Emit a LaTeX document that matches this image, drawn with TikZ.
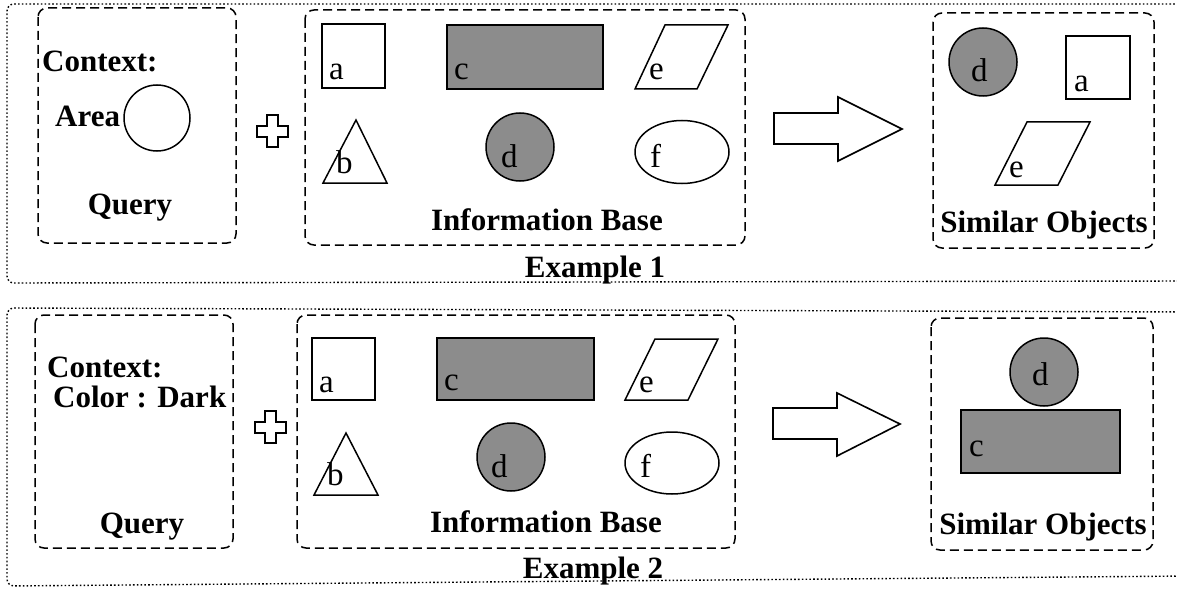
\documentclass[tikz,border=0pt]{standalone}
\usepackage{fontspec}
\setmainfont{Liberation Serif}
\usetikzlibrary{shapes.geometric}
\begin{document}
\begin{tikzpicture}[x=1pt,y=-1pt,
  lbl/.style={font=\fontsize{33}{33}\selectfont, inner sep=0pt, anchor=base west},
  ttl/.style={font=\bfseries\fontsize{31}{31}\selectfont, inner sep=0pt, anchor=base},
  ttlw/.style={ttl, anchor=base west},
  shp/.style={draw, line width=1.5pt},
  dk/.style={shp, fill=black!45},
  grp/.style={draw, dash pattern=on 9pt off 5pt, line width=1.5pt, rounded corners=9pt},
  outerbox/.style={draw, dash pattern=on 1.6pt off 2.2pt, line width=1.4pt, rounded corners=7pt},
  blockarrow/.style={draw, line width=1.6pt, fill=white}]
\useasboundingbox (0,0) rectangle (1177,591);
\fill[white] (0,0) rectangle (1177,591);

% ---------------- Example 1 ----------------
\draw[outerbox] (1190,4) -- (7,4) -- (7,283) -- (1190,281);
\draw[grp] (38,8) rectangle (236,243);
\node[ttlw] (ctx1) at (42,72) {Context:};
\node[ttlw] (area1) at (55,127) {Area};
\node[shp, circle, minimum size=66pt, inner sep=0pt] (qc1) at (157,118) {};
\node[ttl] (query1) at (130,214) {Query};
\draw[shp, line width=1.6pt] (267,115) -- (278,115) -- (278,126) -- (288,126) -- (288,137) -- (278,137) -- (278,147) -- (267,147) -- (267,137) -- (257,137) -- (257,126) -- (267,126) -- cycle;

\draw[grp] (305,10) rectangle (745,245);
\node[shp, rectangle, minimum width=63pt, minimum height=64pt, inner sep=0pt] (ia1) at (353.5,56) {};
\node[lbl] (la1) at (329,80) {a};
\node[dk, rectangle, minimum width=156pt, minimum height=64pt, inner sep=0pt] (ic1) at (525,57) {};
\node[lbl] (lc1) at (454,80) {c};
\draw[shp] (635,89) -- (697,89) -- (728,25) -- (665,25) -- cycle;
\node[lbl] (le1) at (649,80) {e};
\draw[shp] (356,120) -- (387,183) -- (323,183) -- cycle;
\node[lbl] (lb1) at (336,173) {b};
\node[dk, circle, minimum size=68pt, inner sep=0pt] (id1) at (520,147) {};
\node[lbl] (ld1) at (501,167) {d};
\node[shp, ellipse, minimum width=94pt, minimum height=63pt, inner sep=0pt] (if1) at (682,152) {};
\node[lbl] (lf1) at (650,167) {f};
\node[ttl] (ib1) at (547,230) {Information Base};
\node[ttl] (ex1) at (595,277) {Example 1};

\draw[blockarrow] (774,113) -- (838,113) -- (838,97) -- (902,129) -- (838,161) -- (838,144) -- (774,144) -- cycle;

\draw[grp] (933,13) rectangle (1154,248);
\node[dk, circle, minimum size=68pt, inner sep=0pt] (sd1) at (983,62) {};
\node[lbl] (lsd1) at (971,82) {d};
\node[shp, rectangle, minimum width=64pt, minimum height=63pt, inner sep=0pt] (sa1) at (1098,67.5) {};
\node[lbl] (lsa1) at (1074,92) {a};
\draw[shp] (995,185) -- (1058,185) -- (1090,122) -- (1027,122) -- cycle;
\node[lbl] (lse1) at (1009,177) {e};
\node[ttl] (so1) at (1044,232) {Similar Objects};

% ---------------- Example 2 ----------------
\draw[outerbox] (1190,312) -- (7,308) -- (7,586) -- (1190,576);
\draw[grp] (35,315) rectangle (233,548);
\node[ttlw] (ctx2) at (47,377) {Context:};
\node[ttlw] (col2) at (53,407) {Color : Dark};
\node[ttl] (query2) at (142,533) {Query};
\draw[shp, line width=1.6pt] (265,411) -- (276,411) -- (276,422) -- (286,422) -- (286,433) -- (276,433) -- (276,443) -- (265,443) -- (265,433) -- (255,433) -- (255,422) -- (265,422) -- cycle;

\draw[grp] (297,315) rectangle (735,548);
\node[shp, rectangle, minimum width=63pt, minimum height=62pt, inner sep=0pt] (ia2) at (343.5,369) {};
\node[lbl] (la2) at (319,392) {a};
\node[dk, rectangle, minimum width=157pt, minimum height=62pt, inner sep=0pt] (ic2) at (515.5,369) {};
\node[lbl] (lc2) at (444,390) {c};
\draw[shp] (625,400) -- (688,400) -- (718,339) -- (655,339) -- cycle;
\node[lbl] (le2) at (639,392) {e};
\draw[shp] (346,433) -- (378,495) -- (314,495) -- cycle;
\node[lbl] (lb2) at (327,485) {b};
\node[dk, circle, minimum size=68pt, inner sep=0pt] (id2) at (511,457) {};
\node[lbl] (ld2) at (491,477) {d};
\node[shp, ellipse, minimum width=94pt, minimum height=62pt, inner sep=0pt] (if2) at (672,463) {};
\node[lbl] (lf2) at (640,477) {f};
\node[ttl] (ib2) at (546,532) {Information Base};
\node[ttl] (ex2) at (593,578) {Example 2};

\draw[blockarrow] (773,408) -- (837,408) -- (837,393) -- (900,424) -- (837,456) -- (837,439) -- (773,439) -- cycle;

\draw[grp] (931,318) rectangle (1153,550);
\node[dk, circle, minimum size=68pt, inner sep=0pt] (sd2) at (1044,372) {};
\node[lbl] (lsd2) at (1032,385) {d};
\node[dk, rectangle, minimum width=159pt, minimum height=63pt, inner sep=0pt] (sc2) at (1040.5,441.5) {};
\node[lbl] (lsc2) at (969,456) {c};
\node[ttl] (so2) at (1043,534) {Similar Objects};
\end{tikzpicture}
\end{document}
